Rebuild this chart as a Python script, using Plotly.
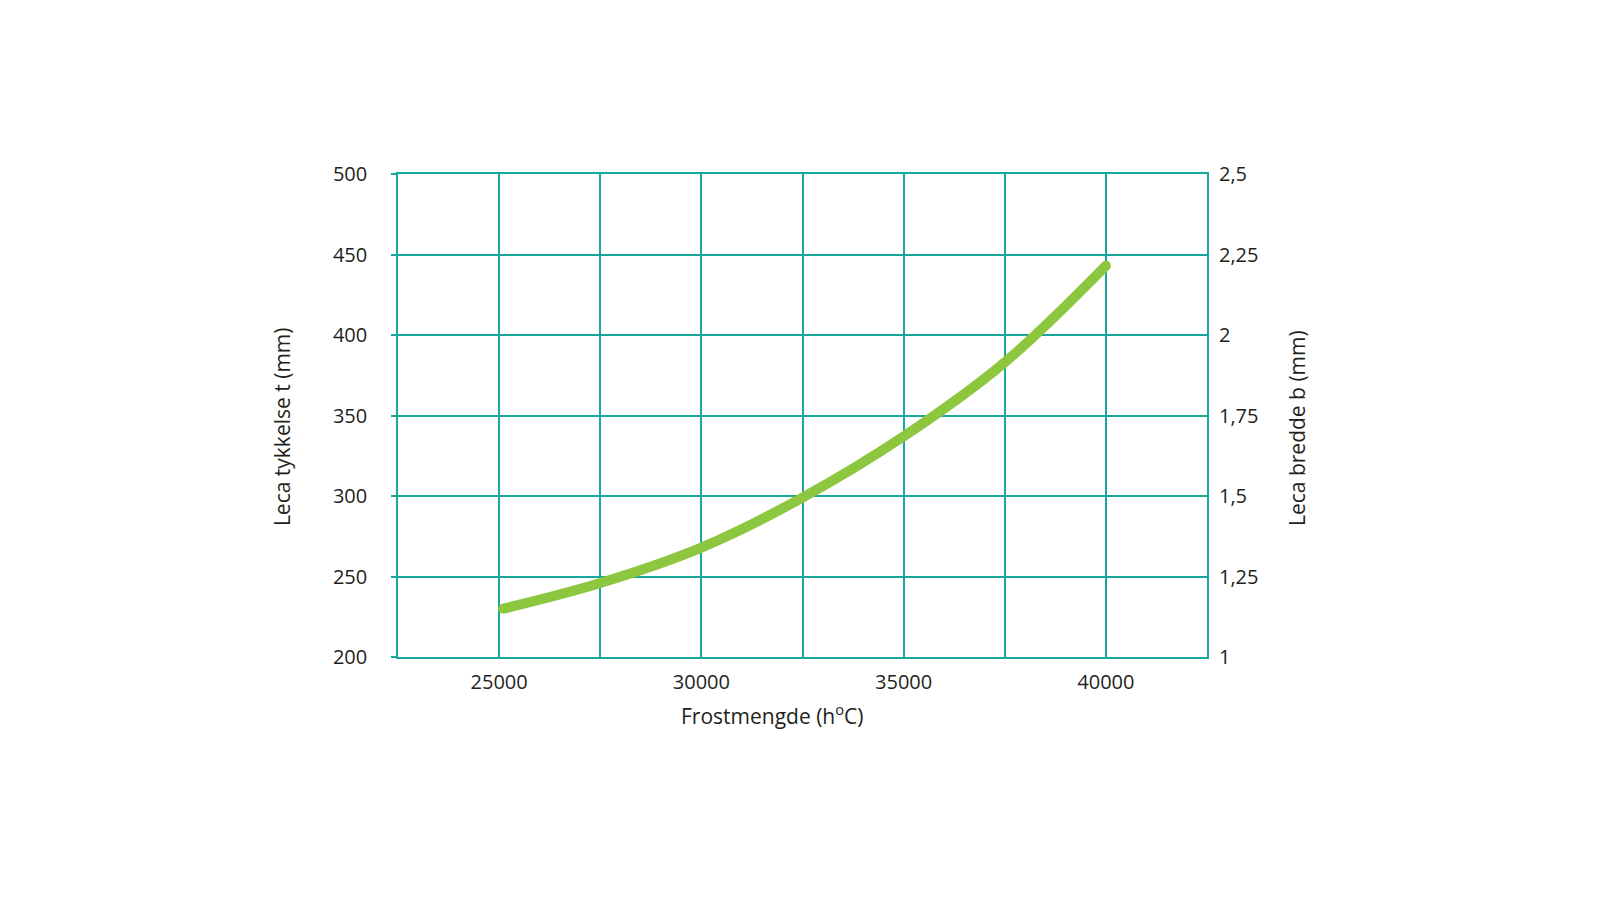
import plotly.graph_objects as go

# Data
frost_x = [25100, 27500, 30000, 32500, 35000, 37500, 40000]          # Frostmengde (h°C)
thickness_t = [230, 246, 268, 299, 337, 383, 443]                    # Leca tykkelse t (mm)

x_tick_vals = [25000, 30000, 35000, 40000]
x_tick_text = ["25000", "30000", "35000", "40000"]
y_tick_vals = [200, 250, 300, 350, 400, 450, 500]
y2_tick_vals = [1, 1.25, 1.5, 1.75, 2, 2.25, 2.5]
y2_tick_text = ["1", "1,25", "1,5", "1,75", "2", "2,25", "2,5"]

x_title = "Frostmengde (h<sup>o</sup>C)"
y_title = "Leca tykkelse t (mm)"
y2_title = "Leca bredde b (mm)"

GRID = "#17a89c"
GREEN = "#8dc63f"
TEXT = "#231f20"
FONT = "Open Sans"

fig = go.Figure()
fig.add_trace(go.Scatter(
    x=frost_x, y=thickness_t, mode="lines",
    line=dict(color=GREEN, width=10, shape="spline", smoothing=1.0),
    hoverinfo="x+y", showlegend=False,
))
# round end caps
fig.add_trace(go.Scatter(
    x=[frost_x[0], frost_x[-1]], y=[thickness_t[0], thickness_t[-1]], mode="markers",
    marker=dict(color=GREEN, size=10, line=dict(width=0)),
    hoverinfo="skip", showlegend=False,
))
# invisible trace to anchor the right axis
fig.add_trace(go.Scatter(
    x=[frost_x[0], frost_x[-1]], y=[y2_tick_vals[0], y2_tick_vals[-1]], yaxis="y2",
    mode="lines", line=dict(width=0), opacity=0, hoverinfo="skip", showlegend=False,
))

fig.update_layout(
    width=1600, height=900,
    margin=dict(l=398, r=393, t=174, b=243),
    paper_bgcolor="white", plot_bgcolor="white",
    font=dict(family=FONT, size=20, color=TEXT),
    xaxis=dict(
        range=[22500, 42500],
        tickvals=x_tick_vals, ticktext=x_tick_text,
        showgrid=True, gridcolor=GRID, gridwidth=1.5,
        minor=dict(dtick=2500, tick0=22500, showgrid=True, gridcolor=GRID, gridwidth=1.5),
        showline=True, linecolor=GRID, linewidth=1.5, mirror=True,
        ticks="", zeroline=False,
        ticklabelstandoff=6,
    ),
    yaxis=dict(
        range=[200, 500], tickvals=y_tick_vals,
        showgrid=True, gridcolor=GRID, gridwidth=1.5,
        showline=True, linecolor=GRID, linewidth=1.5, mirror=True,
        ticks="outside", ticklen=5, tickcolor=GRID, tickwidth=1.5,
        ticklabelstandoff=20, zeroline=False,
    ),
    yaxis2=dict(
        range=[1, 2.5], tickvals=y2_tick_vals, ticktext=y2_tick_text,
        overlaying="y", side="right", showgrid=False, zeroline=False,
        showline=False, ticks="", ticklabelstandoff=11,
    ),
    annotations=[
        dict(text=x_title, xref="paper", yref="paper", x=0.4623, y=-0.120,
             xanchor="center", yanchor="middle", showarrow=False, font=dict(size=21)),
        dict(text=y_title, xref="paper", yref="paper", x=-0.1434, y=0.478, textangle=-90,
             xanchor="center", yanchor="middle", showarrow=False, font=dict(size=21)),
        dict(text=y2_title, xref="paper", yref="paper", x=1.1112, y=0.474, textangle=-90,
             xanchor="center", yanchor="middle", showarrow=False, font=dict(size=21)),
    ],
)

fig.write_html("out.html")
